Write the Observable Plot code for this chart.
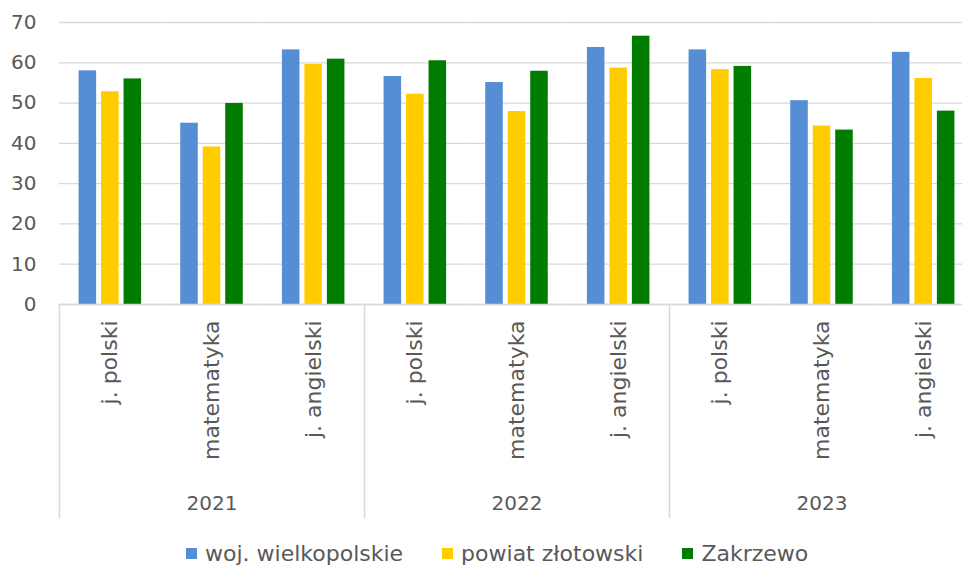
<!DOCTYPE html>
<html><head><meta charset="utf-8">
<script src="https://cdn.jsdelivr.net/npm/d3@7"></script>
<script src="https://cdn.jsdelivr.net/npm/@observablehq/plot@0.6"></script>
<style>
body{margin:0;background:#fff;overflow:hidden;font-family:"DejaVu Sans",sans-serif}
#legend{display:flex;align-items:center;height:30px;padding-left:186px;color:#595959;font-size:22px;white-space:nowrap}
.item{display:flex;align-items:center;margin-right:39px}
.sw{width:11px;height:11px;margin-right:8px}
</style></head><body><div id="chart"></div><div id="legend"></div>
<script>
const years = ["2021", "2022", "2023"];
const subjects = ["j. polski", "matematyka", "j. angielski"];
const series = ["woj. wielkopolskie", "powiat złotowski", "Zakrzewo"];
const colors = ["#558ed5", "#ffcc00", "#007d00"];
const yTicks = [0, 10, 20, 30, 40, 50, 60, 70];
// values in order: 2021 (j. polski, matematyka, j. angielski), 2022 (...), 2023 (...)
const wojValues = [58.0, 45.0, 63.2, 56.6, 55.1, 63.8, 63.2, 50.6, 62.6];
const powiatValues = [52.8, 39.1, 59.6, 52.2, 47.9, 58.7, 58.3, 44.3, 56.1];
const zakrzewoValues = [56.0, 49.9, 60.9, 60.5, 57.9, 66.6, 59.1, 43.3, 48.0];

const seriesValues = [wojValues, powiatValues, zakrzewoValues];
const keys = years.flatMap(y => subjects.map(s => y + "|" + s));
const rows = [];
keys.forEach((key, i) => series.forEach((name, k) => rows.push({key, series: name, value: seriesValues[k][i]})));
const catLabels = keys.map(k => ({key: k, label: k.split("|")[1]}));
const yearLabels = years.map(y => ({key: y + "|" + subjects[1], label: y}));
const seps = years.map(y => ({key: y + "|" + subjects[0]}));

const W = 962, H = 538, ML = 59, MR = -12, MT = 22, MB = 234;
const half = (W - ML - MR) / keys.length / 2;

const chart = Plot.plot({
  width: W, height: H, marginLeft: ML, marginRight: MR, marginTop: MT, marginBottom: MB,
  style: {fontFamily: "'DejaVu Sans', sans-serif", color: "#595959", background: "#fff"},
  fx: {domain: keys, padding: 0, round: false, axis: null},
  x: {domain: series, paddingInner: 0.22, paddingOuter: 0.87, round: false, axis: null},
  y: {domain: [0, 70], axis: null},
  color: {domain: series, range: colors},
  marks: [
    Plot.gridY(yTicks, {stroke: "#d9d9d9", strokeOpacity: 1, strokeWidth: 1.3}),
    Plot.axisY(yTicks, {tickSize: 0, tickPadding: 23, fontSize: 20, label: null}),
    Plot.barY(rows, {fx: "key", x: "series", y: "value", fill: "series"}),
    Plot.ruleY([0], {stroke: "#d9d9d9", strokeWidth: 1.3}),
    Plot.ruleX(seps, {fx: "key", x: null, dx: -half, insetTop: H - MT - MB, insetBottom: -214, stroke: "#d9d9d9", strokeWidth: 1.5}),
    Plot.text(catLabels, {fx: "key", text: "label", frameAnchor: "bottom", dy: 16, rotate: -90, textAnchor: "end", lineAnchor: "middle", fontSize: 22, fill: "#595959"}),
    Plot.text(yearLabels, {fx: "key", text: "label", frameAnchor: "bottom", dy: 199, lineAnchor: "middle", fontSize: 20, fill: "#595959"})
  ]
});
document.getElementById("chart").appendChild(chart);

const legend = document.getElementById("legend");
series.forEach((s, i) => {
  const item = document.createElement("div");
  item.className = "item";
  const sw = document.createElement("span");
  sw.className = "sw";
  sw.style.background = colors[i];
  const t = document.createElement("span");
  t.textContent = s;
  item.appendChild(sw); item.appendChild(t);
  legend.appendChild(item);
});
</script></body></html>
